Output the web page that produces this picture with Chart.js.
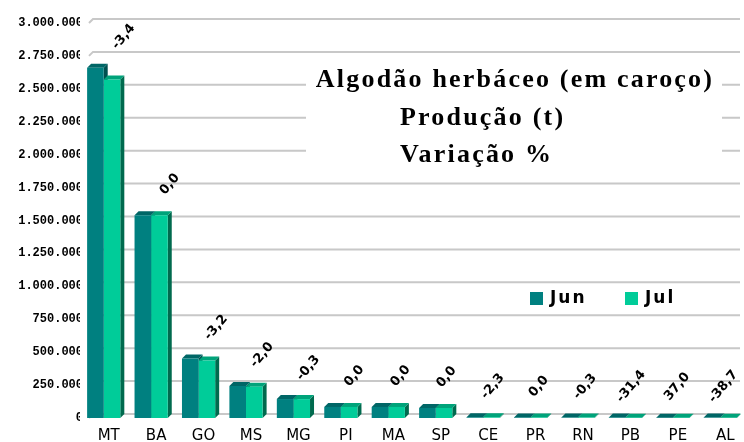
<!DOCTYPE html>
<html>
<head>
<meta charset="utf-8">
<script src="https://cdn.jsdelivr.net/npm/chart.js@4.4.1/dist/chart.umd.min.js"></script>
<style>
  body { margin: 0; background: #fff; }
  #chart { display: block; }
</style>
</head>
<body>
<canvas id="chart" width="744" height="442"></canvas>
<script>
// Algodão herbáceo - produção por UF (t), levantamentos de junho e julho
const categories = ['MT', 'BA', 'GO', 'MS', 'MG', 'PI', 'MA', 'SP', 'CE', 'PR', 'RN', 'PB', 'PE', 'AL'];
const junValues = [2660000, 1540000, 452000, 243000, 144000, 84000, 84000, 76000, 5000, 4000, 3000, 4000, 2000, 3000];
const julValues = [2570000, 1540000, 437000, 238000, 143500, 84000, 84000, 76000, 4900, 4000, 3000, 2700, 2700, 1800];
const variation = ['-3,4', '0,0', '-3,2', '-2,0', '-0,3', '0,0', '0,0', '0,0', '-2,3', '0,0', '-0,3', '-31,4', '37,0', '-38,7'];
const yTickLabels = ['0', '250.000', '500.000', '750.000', '1.000.000', '1.250.000', '1.500.000',
    '1.750.000', '2.000.000', '2.250.000', '2.500.000', '2.750.000', '3.000.000'];
const titleLines = ['Algodão herbáceo (em caroço)', 'Produção (t)', 'Variação %'];

const DEPTH = 4;

// fake 3D: back-wall grid, title box, legend, bar side/top faces, rotated labels
const chart3d = {
    id: 'chart3d',
    beforeDatasetsDraw(chart) {
        const { ctx, chartArea, scales } = chart;
        const y = scales.y;
        const wallLeft = chartArea.left + 9;
        ctx.save();

        // grid lines on the back wall
        ctx.strokeStyle = '#c8c8c8';
        ctx.lineWidth = 2;
        y.ticks.forEach(t => {
            const yy = y.getPixelForValue(t.value);
            ctx.beginPath();
            ctx.moveTo(wallLeft, yy);
            ctx.lineTo(wallLeft + DEPTH, yy - DEPTH);
            ctx.lineTo(chartArea.right - 4, yy - DEPTH);
            ctx.stroke();
        });

        // title
        ctx.fillStyle = '#fff';
        ctx.fillRect(306, 62, 416, 108);
        ctx.fillStyle = '#000';
        ctx.font = 'bold 26px "Liberation Serif"';
        ctx.letterSpacing = '2.2px';
        ctx.textBaseline = 'alphabetic';
        ctx.textAlign = 'center';
        ctx.fillText(titleLines[0], 515, 87);
        ctx.textAlign = 'left';
        ctx.fillText(titleLines[1], 400, 125);
        ctx.fillText(titleLines[2], 400, 162);

        // legend
        ctx.fillStyle = '#fff';
        ctx.fillRect(512, 286, 182, 23);
        ctx.font = 'bold 17px "DejaVu Sans"';
        ctx.letterSpacing = '2px';
        ctx.textBaseline = 'middle';
        const legendX = [530, 625];
        chart.data.datasets.forEach((ds, i) => {
            ctx.fillStyle = ds.backgroundColor;
            ctx.fillRect(legendX[i], 292, 13, 13);
            ctx.fillStyle = '#000';
            ctx.fillText(ds.label, legendX[i] + 20, 299);
        });
        ctx.letterSpacing = '0px';

        // side and top faces, drawn behind the front faces
        chart.data.datasets.forEach((ds, di) => {
            chart.getDatasetMeta(di).data.forEach(bar => {
                const { x, y: top, base, width } = bar.getProps(['x', 'y', 'base', 'width'], true);
                const l = x - width / 2;
                const r = x + width / 2;
                ctx.fillStyle = ds.sideColor;
                ctx.beginPath();
                ctx.moveTo(r, top);
                ctx.lineTo(r + DEPTH, top - DEPTH);
                ctx.lineTo(r + DEPTH, base - DEPTH);
                ctx.lineTo(r, base);
                ctx.closePath();
                ctx.fill();
                ctx.fillStyle = ds.topColor;
                ctx.beginPath();
                ctx.moveTo(l, top);
                ctx.lineTo(l + DEPTH, top - DEPTH);
                ctx.lineTo(r + DEPTH, top - DEPTH);
                ctx.lineTo(r, top);
                ctx.closePath();
                ctx.fill();
            });
        });
        ctx.restore();
    },
    afterDatasetsDraw(chart) {
        const { ctx, scales } = chart;
        ctx.save();
        ctx.fillStyle = '#000';
        ctx.font = 'bold 13px "DejaVu Sans"';
        ctx.textAlign = 'center';
        ctx.textBaseline = 'middle';
        categories.forEach((c, i) => {
            const cx = scales.x.getPixelForValue(i);
            const top = scales.y.getPixelForValue(Math.max(junValues[i], julValues[i]));
            ctx.save();
            ctx.translate(cx + 20 - i * 1.3, top - 31);
            ctx.rotate(-50 * Math.PI / 180);
            ctx.fillText(variation[i], 0, 0);
            ctx.restore();
        });
        ctx.restore();
    }
};

const ctx = document.getElementById('chart').getContext('2d');
const productionChart = new Chart(ctx, {
    type: 'bar',
    data: {
        labels: categories,
        datasets: [{
            label: 'Jun',
            data: junValues,
            backgroundColor: '#008080',
            topColor: '#006666',
            sideColor: '#005050',
        }, {
            label: 'Jul',
            data: julValues,
            backgroundColor: '#00cc99',
            topColor: '#00a37a',
            sideColor: '#006a4e',
        }],
    },
    options: {
        responsive: false,
        animation: false,
        events: [],
        categoryPercentage: 0.7,
        barPercentage: 1.0,
        layout: {
            padding: { top: 23, right: 0, bottom: 0, left: 0 },
        },
        plugins: {
            legend: { display: false },
            tooltip: { enabled: false },
        },
        scales: {
            x: {
                grid: { display: false, drawTicks: false },
                border: { display: false },
                ticks: {
                    color: '#000',
                    font: { family: 'DejaVu Sans', size: 15 },
                    padding: 9,
                    labelOffset: 5,
                    maxRotation: 0,
                    autoSkip: false,
                },
                afterFit: scale => { scale.height = 24; },
            },
            y: {
                min: 0,
                max: 3000000,
                grid: { display: false, drawTicks: false },
                border: { display: false },
                ticks: {
                    stepSize: 250000,
                    padding: -3,
                    color: '#000',
                    font: { family: 'Liberation Mono', size: 12, weight: 'bold' },
                    callback: (value, index) => yTickLabels[index],
                },
                afterFit: scale => { scale.width = 80; },
            },
        },
    },
    plugins: [chart3d],
});
</script>
</body>
</html>
